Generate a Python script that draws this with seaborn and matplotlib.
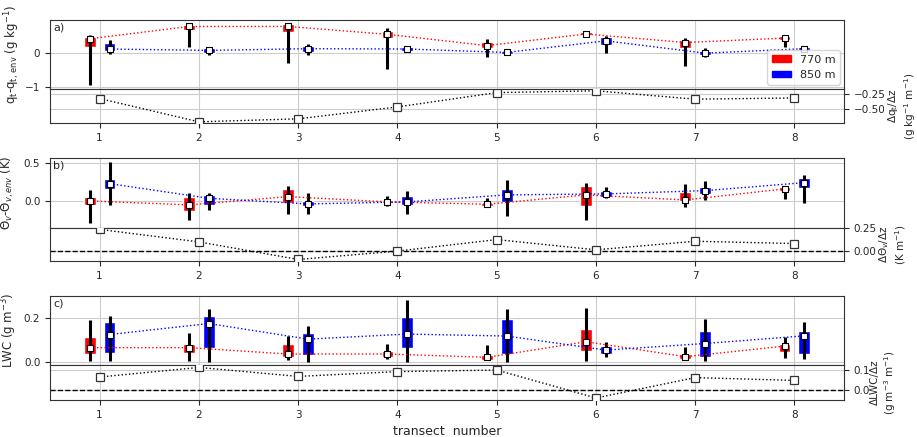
import numpy as np
import matplotlib
matplotlib.use("Agg")
import matplotlib.pyplot as plt
import seaborn as sns
from matplotlib.patches import Patch

transect = [1, 2, 3, 4, 5, 6, 7, 8]
heights = ["770 m", "850 m"]

# a) total water deviation (median, quartiles, range)
qt_770_med = [0.42, 0.78, 0.78, 0.55, 0.22, 0.56, 0.31, 0.44]
qt_770_q1 = [0.19, 0.68, 0.63, 0.45, 0.16, 0.52, 0.16, 0.38]
qt_770_q3 = [0.48, 0.82, 0.85, 0.66, 0.32, 0.62, 0.39, 0.50]
qt_770_lo = [-0.94, 0.17, -0.29, -0.47, -0.12, 0.52, -0.39, 0.17]
qt_770_hi = [0.53, 0.79, 0.80, 0.73, 0.41, 0.60, 0.44, 0.50]
qt_850_med = [0.12, 0.08, 0.13, 0.12, 0.02, 0.36, 0.00, 0.13]
qt_850_q1 = [0.05, 0.01, 0.03, 0.07, -0.02, 0.24, -0.05, 0.08]
qt_850_q3 = [0.29, 0.14, 0.22, 0.17, 0.05, 0.47, 0.07, 0.17]
qt_850_lo = [-0.02, -0.05, -0.05, 0.07, -0.06, 0.00, -0.11, 0.08]
qt_850_hi = [0.39, 0.12, 0.27, 0.17, 0.05, 0.51, 0.15, 0.17]
dqt_dz = [-0.32, -0.71, -0.66, -0.46, -0.22, -0.19, -0.33, -0.31]

# b) virtual potential temperature deviation
thv_770_med = [0.0, -0.053, 0.057, -0.013, -0.044, 0.08, 0.013, 0.16]
thv_770_q1 = [-0.053, -0.14, -0.03, -0.03, -0.065, -0.07, 0.004, 0.13]
thv_770_q3 = [0.057, 0.057, 0.155, 0.005, -0.03, 0.20, 0.12, 0.18]
thv_770_lo = [-0.30, -0.25, -0.17, -0.066, -0.05, -0.25, -0.075, 0.02]
thv_770_hi = [0.146, 0.11, 0.20, 0.066, 0.035, 0.24, 0.23, 0.19]
thv_850_med = [0.23, 0.035, -0.04, -0.013, 0.08, 0.093, 0.137, 0.243]
thv_850_q1 = [0.155, -0.053, -0.065, -0.053, -0.01, 0.057, 0.093, 0.17]
thv_850_q3 = [0.29, 0.08, 0.005, 0.066, 0.16, 0.13, 0.19, 0.30]
thv_850_lo = [-0.05, -0.12, -0.17, -0.17, -0.20, 0.035, 0.013, -0.03]
thv_850_hi = [0.52, 0.10, 0.10, 0.13, 0.28, 0.18, 0.26, 0.35]
dthv_dz = [0.235, 0.10, -0.09, 0.0, 0.125, 0.014, 0.107, 0.082]

# c) liquid water content
lwc_770_med = [0.064, 0.064, 0.035, 0.035, 0.02, 0.091, 0.023, 0.071]
lwc_770_q1 = [0.035, 0.038, 0.02, 0.02, 0.008, 0.049, 0.012, 0.045]
lwc_770_q3 = [0.114, 0.083, 0.079, 0.05, 0.03, 0.149, 0.035, 0.083]
lwc_770_lo = [0.003, 0.003, 0.008, 0.012, 0.008, 0.003, 0.008, 0.018]
lwc_770_hi = [0.19, 0.132, 0.118, 0.079, 0.076, 0.245, 0.065, 0.114]
lwc_850_med = [0.124, 0.174, 0.103, 0.126, 0.117, 0.053, 0.083, 0.118]
lwc_850_q1 = [0.038, 0.061, 0.03, 0.061, 0.034, 0.034, 0.023, 0.034]
lwc_850_q3 = [0.179, 0.208, 0.129, 0.205, 0.197, 0.071, 0.141, 0.141]
lwc_850_lo = [0.003, 0.0, 0.0, 0.0, 0.0, 0.023, 0.003, 0.011]
lwc_850_hi = [0.208, 0.24, 0.164, 0.28, 0.24, 0.088, 0.197, 0.182]
dlwc_dz = [0.065, 0.113, 0.068, 0.092, 0.10, -0.04, 0.062, 0.048]

sns.set_style("ticks", {"axes.grid": True, "grid.color": "#cccccc"})
plt.rcParams["font.family"] = ["DejaVu Sans"]
plt.rcParams["axes.edgecolor"] = "#333333"
plt.rcParams["xtick.labelsize"] = 7.5
plt.rcParams["ytick.labelsize"] = 7.5
plt.rcParams["axes.labelsize"] = 8.5

fig = plt.figure(figsize=(9.17, 4.37), dpi=100)
x = np.array(transect)
left, width = 0.0545, 0.866


def draw_stats(ax, pos, med, q1, q3, lo, hi, color):
    ax.bar(pos, np.array(q3) - np.array(q1), bottom=q1, width=0.12,
           color=color, zorder=2)
    ax.vlines(pos, lo, hi, color="black", lw=2.2, zorder=3)
    sns.lineplot(x=pos, y=med, ax=ax, color=color, linestyle=":", lw=1,
                 zorder=4)
    sns.scatterplot(x=pos, y=med, ax=ax, marker="s", s=24, color="white",
                    edgecolor="black", linewidth=0.8, zorder=5)


def draw_group(bot_main, h_main, bot_sub, h_sub, red, blue, grad, ylim,
               yticks, sylim, syticks, ylabel, sylabel, tag, zero_line,
               label_x):
    ax = fig.add_axes([left, bot_main, width, h_main])
    sub = fig.add_axes([left, bot_sub, width, h_sub], sharex=ax)
    ax.set_axisbelow(True)
    draw_stats(ax, x - 0.1, *red, "red")
    draw_stats(ax, x + 0.1, *blue, "blue")
    ax.set_xlim(0.5, 8.5)
    ax.set_ylim(*ylim)
    ax.set_yticks(yticks)
    ax.set_ylabel(ylabel)
    ax.yaxis.set_label_coords(label_x, 0.5)
    ax.tick_params(axis="x", bottom=False, labelbottom=False)
    ax.text(0.004, 0.96, tag, transform=ax.transAxes, va="top", fontsize=8)

    sub.set_axisbelow(True)
    if zero_line:
        sub.axhline(0, color="black", ls="--", lw=1, zorder=2)
    sns.lineplot(x=x, y=grad, ax=sub, color="black", linestyle=":", lw=1,
                 marker="s", markersize=5.5, markerfacecolor="white",
                 markeredgecolor="#333333", markeredgewidth=0.9, zorder=4)
    sub.set_ylim(*sylim)
    sub.set_yticks(syticks)
    sub.yaxis.tick_right()
    sub.yaxis.set_label_position("right")
    sub.set_ylabel(sylabel, fontsize=7.5, labelpad=0)
    sub.set_xticks(transect)
    sub.set_xlabel("")
    ax.set_xlabel("")
    return ax, sub


ax_a, sub_a = draw_group(
    0.7963, 0.158, 0.7185, 0.0778,
    [qt_770_med, qt_770_q1, qt_770_q3, qt_770_lo, qt_770_hi],
    [qt_850_med, qt_850_q1, qt_850_q3, qt_850_lo, qt_850_hi],
    dqt_dz, (-1.05, 0.97), [-1, 0], (-0.73, -0.16), [-0.5, -0.25],
    r"q$_\mathrm{t}$-q$_\mathrm{t,\,env}$ (g kg$^{-1}$)",
    "Δq$_\\mathrm{t}$/Δz\n(g kg$^{-1}$ m$^{-1}$)", "a)", False, -0.035)

ax_b, sub_b = draw_group(
    0.4783, 0.160, 0.4027, 0.0755,
    [thv_770_med, thv_770_q1, thv_770_q3, thv_770_lo, thv_770_hi],
    [thv_850_med, thv_850_q1, thv_850_q3, thv_850_lo, thv_850_hi],
    dthv_dz, (-0.36, 0.57), [0.0, 0.5], (-0.107, 0.25), [0.0, 0.25],
    r"$\Theta_v$-$\Theta_{v,env}$ (K)",
    "Δ$\\Theta_v$/Δz\n(K m$^{-1}$)", "b)", True, -0.043)

ax_c, sub_c = draw_group(
    0.1648, 0.158, 0.0847, 0.080,
    [lwc_770_med, lwc_770_q1, lwc_770_q3, lwc_770_lo, lwc_770_hi],
    [lwc_850_med, lwc_850_q1, lwc_850_q3, lwc_850_lo, lwc_850_hi],
    dlwc_dz, (-0.015, 0.30), [0.0, 0.2], (-0.05, 0.125), [0.0, 0.1],
    "LWC (g m$^{-3}$)",
    "ΔLWC/Δz\n(g m$^{-3}$ m$^{-1}$)", "c)", True, -0.039)
sub_c.set_xlabel("transect  number", fontsize=9)

handles = [Patch(color="red"), Patch(color="blue")]
ax_a.legend(handles, heights, loc="lower right", fontsize=8,
            handlelength=1.7, handleheight=0.5, borderaxespad=0.4)

fig.savefig("out.png", dpi=100)
